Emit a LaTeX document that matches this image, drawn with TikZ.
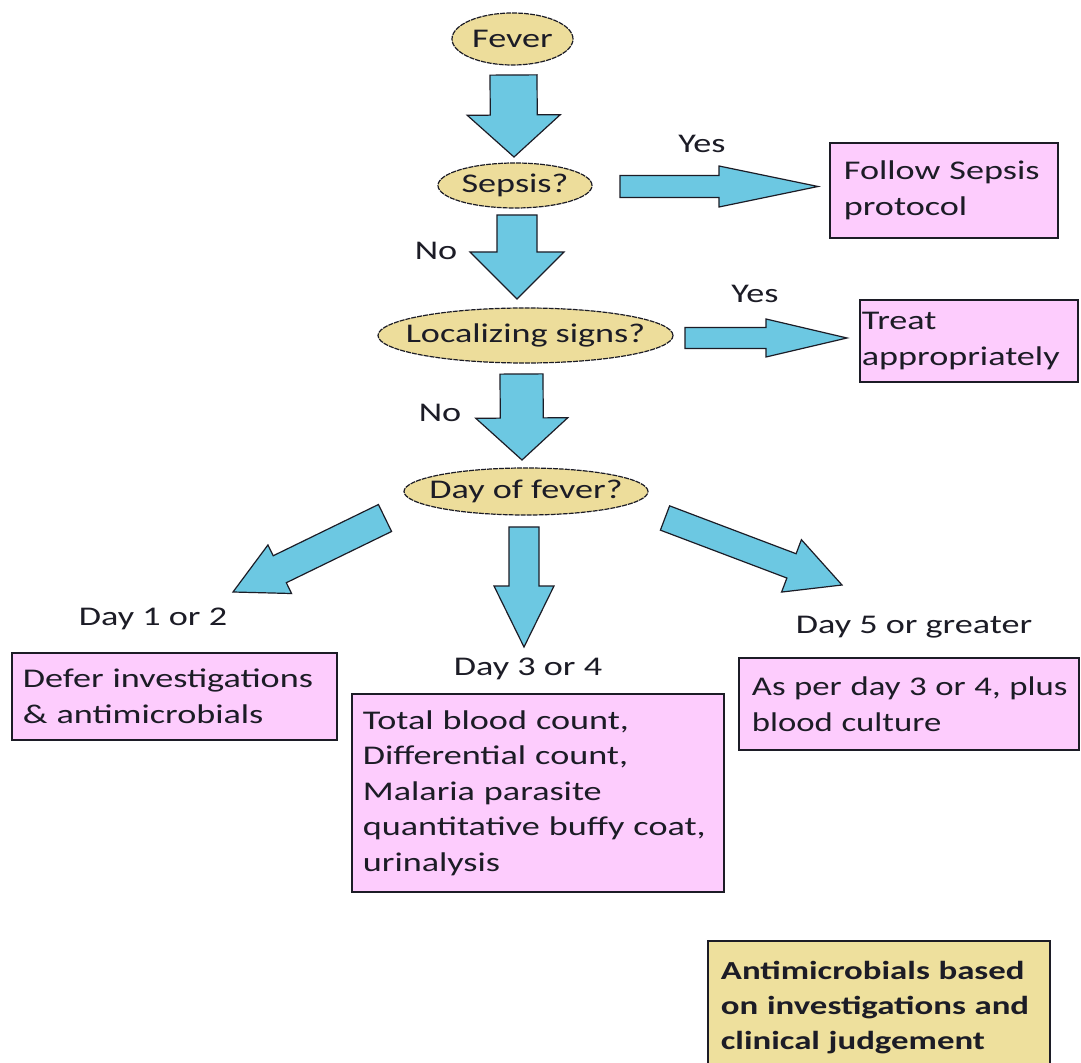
\documentclass[tikz,border=0pt]{standalone}
\usepackage{fontspec}
\setmainfont{Carlito}[FakeStretch=1.34]
\usetikzlibrary{shapes.geometric,calc}
\definecolor{ovalfill}{RGB}{237,221,155}
\definecolor{arrowfill}{RGB}{108,200,226}
\definecolor{boxpink}{RGB}{253,204,253}
\definecolor{boxtan}{RGB}{238,224,157}
\definecolor{ink}{RGB}{28,28,38}
\newcommand\barrow[5]{%
  \coordinate (#1-#2-h) at ($(#2)!#5!(#1)$);
  \draw[blockarrow] ($(#1)!#3!90:(#2)$) -- ($(#1-#2-h)!#3!-90:(#1)$) -- ($(#1-#2-h)!#4!-90:(#1)$) -- (#2) -- ($(#1-#2-h)!#4!90:(#1)$) -- ($(#1-#2-h)!#3!90:(#1)$) -- ($(#1)!#3!-90:(#2)$) -- cycle;}
\tikzset{
  basefont/.style={font=\fontsize{13.5}{17.75}\selectfont, text=ink},
  oval/.style={ellipse, draw=ink, line width=0.6pt, dash pattern=on 2.5pt off 0.5pt, fill=ovalfill, inner sep=0pt, basefont},
  blockarrow/.style={draw=ink, line width=0.6pt, fill=arrowfill, line join=miter},
  infobox/.style={draw=ink, line width=0.9pt, fill=boxpink, align=left, basefont, anchor=west},
  lbl/.style={basefont, anchor=base, inner sep=0pt},
}
\begin{document}
\begin{tikzpicture}[x=0.5pt,y=-0.5pt]
\useasboundingbox (0,0) rectangle (1081,1063);
\fill[white] (0,0) rectangle (1081,1063);
\clip (0,0) rectangle (1081,1063);
% decision ovals
\node[oval, minimum width=60.5pt, minimum height=26pt] (fever) at (512.5,39) {\makebox[0pt]{Fever}};
\node[oval, minimum width=77pt, minimum height=22.5pt] (sepsis) at (515,185.5) {\makebox[0pt]{Sepsis?}};
\node[oval, minimum width=147.5pt, minimum height=27.5pt] (local) at (525.5,335.5) {\makebox[0pt]{Localizing signs?}};
\node[oval, minimum width=122pt, minimum height=23.5pt] (day) at (526,491.5) {\makebox[0pt]{Day of fever?}};
% boxes
\node[infobox, text width=100pt, inner xsep=7pt, minimum height=47.5pt] (follow) at (829,190.5) {Follow Sepsis\\protocol};
\node[infobox, text width=107pt, inner xsep=1pt, minimum height=41pt] (treat) at (859,341) {Treat\\appropriately};
\node[infobox, text width=151.5pt, inner xsep=5.5pt, minimum height=43.5pt] (defer) at (11,696.5) {Defer investigations\\\& antimicrobials};
\node[infobox, text width=175pt, inner xsep=5.5pt, minimum height=99pt] (total) at (351,793) {Total blood count,\\Differential count,\\Malaria parasite\\quantitative buffy coat,\\urinalysis};
\node[infobox, text width=157pt, inner xsep=6.5pt, minimum height=46pt] (asper) at (738,704) {\scalebox{0.96}[1]{As per day 3 or 4, plus}\\\scalebox{0.96}[1]{blood culture}};
\node[infobox, fill=boxtan, text width=158pt, inner xsep=6.5pt, minimum height=67pt, font=\fontsize{13}{17.5}\selectfont\bfseries] (anti) at (707,1008) {Antimicrobials based\\on investigations and\\clinical judgement};
% labels
\node[lbl] (yes1) at (702,153) {Yes};
\node[lbl] (yes2) at (755,303) {Yes};
\node[lbl] (no1) at (436,260) {No};
\node[lbl] (no2) at (440,422) {No};
\node[lbl] (d12) at (153,625) {Day 1 or 2};
\node[lbl] (d34) at (528,675) {Day 3 or 4};
\node[lbl] (d5) at (914,633) {Day 5 or greater};
% arrow end points
\coordinate (a1s) at (513.5,75);  \coordinate (a1e) at (514,157);
\coordinate (a2s) at (517,215);   \coordinate (a2e) at (517,299);
\coordinate (a3s) at (521.5,374); \coordinate (a3e) at (522,460);
\coordinate (ys) at (620,186.5);  \coordinate (ye) at (818,186.5);
\coordinate (ls) at (685,338);    \coordinate (le) at (847,338);
\coordinate (dls) at (385,518);   \coordinate (dle) at (233,592);
\coordinate (dcs) at (524,527);   \coordinate (dce) at (524,647);
\coordinate (drs) at (665,518);   \coordinate (dre) at (842,585);
\barrow{a1s}{a1e}{11.75pt}{23.25pt}{21pt}
\barrow{a2s}{a2e}{10pt}{23.5pt}{23.5pt}
\barrow{a3s}{a3e}{10.75pt}{23pt}{21pt}
\barrow{ys}{ye}{5.5pt}{10.25pt}{49.5pt}
\barrow{ls}{le}{5.25pt}{9.5pt}{40.5pt}
\barrow{dls}{dle}{7.5pt}{13.5pt}{26pt}
\barrow{dcs}{dce}{7.5pt}{15pt}{30.5pt}
\barrow{drs}{dre}{6.5pt}{14pt}{27pt}
\end{tikzpicture}
\end{document}
